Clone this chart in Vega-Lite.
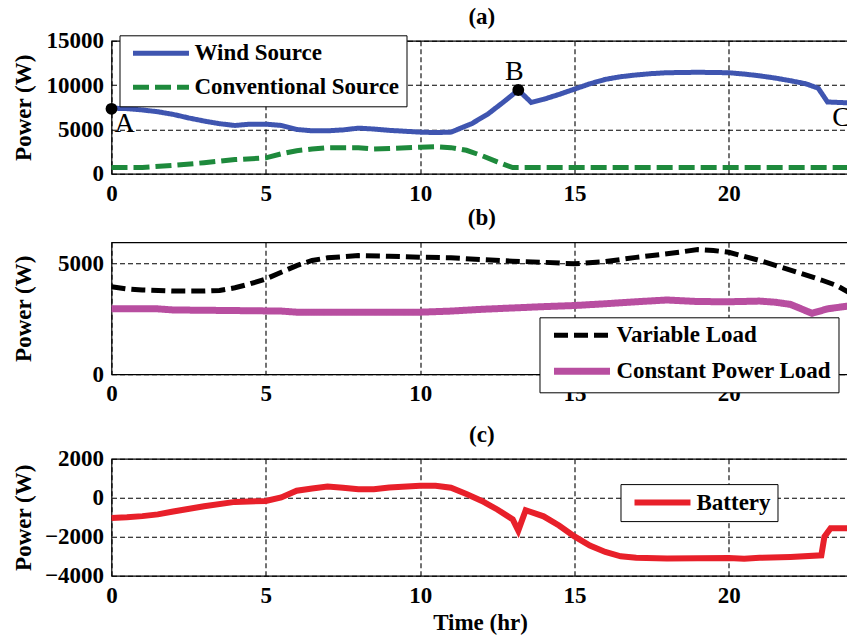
{
  "$schema": "https://vega.github.io/schema/vega-lite/v6.json",
  "padding": {"left": 10.5, "top": 4.8, "right": 0, "bottom": 0},
  "background": "white",
  "config": {
    "font": "Liberation Serif",
    "view": {"stroke": "black", "strokeWidth": 1.2},
    "axis": {
      "labelFont": "Liberation Serif", "labelFontSize": 23, "labelFontWeight": "bold", "labelColor": "black",
      "titleFont": "Liberation Serif", "titleFontSize": 23, "titleFontWeight": "bold", "titleColor": "black",
      "ticks": false, "domain": false, "grid": true, "gridColor": "black", "gridDash": [5, 3], "gridOpacity": 1, "gridWidth": 1.1,
      "labelPadding": 8.5, "labelFlush": false, "labelOverlap": false, "format": "d"
    },
    "axisY": {"minExtent": 66, "maxExtent": 66, "titlePadding": 10.5, "labelPadding": 8}
  },
  "datasets": {
    "a": [
      {"t": 0, "p": 7400, "s": "Wind Source"}, {"t": 0.5, "p": 7350, "s": "Wind Source"}, {"t": 1, "p": 7200, "s": "Wind Source"},
      {"t": 1.5, "p": 7000, "s": "Wind Source"}, {"t": 2, "p": 6700, "s": "Wind Source"}, {"t": 2.5, "p": 6300, "s": "Wind Source"},
      {"t": 3, "p": 5950, "s": "Wind Source"}, {"t": 3.5, "p": 5650, "s": "Wind Source"}, {"t": 4, "p": 5450, "s": "Wind Source"},
      {"t": 4.5, "p": 5600, "s": "Wind Source"}, {"t": 5, "p": 5600, "s": "Wind Source"}, {"t": 5.5, "p": 5450, "s": "Wind Source"},
      {"t": 6, "p": 5000, "s": "Wind Source"}, {"t": 6.5, "p": 4850, "s": "Wind Source"}, {"t": 7, "p": 4850, "s": "Wind Source"},
      {"t": 7.5, "p": 4950, "s": "Wind Source"}, {"t": 8, "p": 5150, "s": "Wind Source"}, {"t": 8.5, "p": 5050, "s": "Wind Source"},
      {"t": 9, "p": 4900, "s": "Wind Source"}, {"t": 9.5, "p": 4800, "s": "Wind Source"}, {"t": 10, "p": 4700, "s": "Wind Source"},
      {"t": 10.5, "p": 4650, "s": "Wind Source"}, {"t": 11, "p": 4700, "s": "Wind Source"}, {"t": 11.67, "p": 5650, "s": "Wind Source"},
      {"t": 12.2, "p": 6750, "s": "Wind Source"}, {"t": 12.74, "p": 8200, "s": "Wind Source"}, {"t": 13.18, "p": 9450, "s": "Wind Source"},
      {"t": 13.6, "p": 8050, "s": "Wind Source"}, {"t": 14, "p": 8400, "s": "Wind Source"}, {"t": 14.5, "p": 8950, "s": "Wind Source"},
      {"t": 15, "p": 9550, "s": "Wind Source"}, {"t": 15.5, "p": 10150, "s": "Wind Source"}, {"t": 16, "p": 10650, "s": "Wind Source"},
      {"t": 16.5, "p": 10950, "s": "Wind Source"}, {"t": 17, "p": 11150, "s": "Wind Source"}, {"t": 17.5, "p": 11300, "s": "Wind Source"},
      {"t": 18, "p": 11400, "s": "Wind Source"}, {"t": 19, "p": 11450, "s": "Wind Source"}, {"t": 20, "p": 11400, "s": "Wind Source"},
      {"t": 20.5, "p": 11250, "s": "Wind Source"}, {"t": 21, "p": 11050, "s": "Wind Source"}, {"t": 21.5, "p": 10800, "s": "Wind Source"},
      {"t": 22, "p": 10500, "s": "Wind Source"}, {"t": 22.5, "p": 10150, "s": "Wind Source"}, {"t": 22.9, "p": 9650, "s": "Wind Source"},
      {"t": 23.2, "p": 8100, "s": "Wind Source"}, {"t": 23.88, "p": 8000, "s": "Wind Source"},
      {"t": 0, "p": 700, "s": "Conventional Source"}, {"t": 1, "p": 720, "s": "Conventional Source"}, {"t": 2, "p": 950, "s": "Conventional Source"},
      {"t": 3, "p": 1250, "s": "Conventional Source"}, {"t": 4, "p": 1600, "s": "Conventional Source"}, {"t": 5, "p": 1800, "s": "Conventional Source"},
      {"t": 5.5, "p": 2250, "s": "Conventional Source"}, {"t": 6, "p": 2600, "s": "Conventional Source"}, {"t": 6.5, "p": 2800, "s": "Conventional Source"},
      {"t": 7, "p": 2950, "s": "Conventional Source"}, {"t": 8, "p": 2950, "s": "Conventional Source"}, {"t": 8.5, "p": 2800, "s": "Conventional Source"},
      {"t": 9, "p": 2850, "s": "Conventional Source"}, {"t": 10, "p": 3000, "s": "Conventional Source"}, {"t": 10.5, "p": 3050, "s": "Conventional Source"},
      {"t": 11, "p": 2950, "s": "Conventional Source"}, {"t": 11.5, "p": 2650, "s": "Conventional Source"}, {"t": 12, "p": 2050, "s": "Conventional Source"},
      {"t": 12.5, "p": 1350, "s": "Conventional Source"}, {"t": 13, "p": 700, "s": "Conventional Source"}, {"t": 13.5, "p": 700, "s": "Conventional Source"},
      {"t": 23.88, "p": 700, "s": "Conventional Source"}
    ],
    "b": [
      {"t": 0, "p": 3950, "s": "Variable Load"}, {"t": 0.5, "p": 3850, "s": "Variable Load"}, {"t": 1, "p": 3800, "s": "Variable Load"},
      {"t": 2, "p": 3750, "s": "Variable Load"}, {"t": 3, "p": 3750, "s": "Variable Load"}, {"t": 3.5, "p": 3780, "s": "Variable Load"},
      {"t": 4, "p": 3900, "s": "Variable Load"}, {"t": 4.5, "p": 4080, "s": "Variable Load"}, {"t": 5, "p": 4300, "s": "Variable Load"},
      {"t": 5.5, "p": 4600, "s": "Variable Load"}, {"t": 6, "p": 4900, "s": "Variable Load"}, {"t": 6.5, "p": 5130, "s": "Variable Load"},
      {"t": 7, "p": 5250, "s": "Variable Load"}, {"t": 8, "p": 5350, "s": "Variable Load"}, {"t": 9, "p": 5320, "s": "Variable Load"},
      {"t": 10, "p": 5280, "s": "Variable Load"}, {"t": 11, "p": 5250, "s": "Variable Load"}, {"t": 12, "p": 5170, "s": "Variable Load"},
      {"t": 13, "p": 5100, "s": "Variable Load"}, {"t": 14, "p": 5050, "s": "Variable Load"}, {"t": 15, "p": 4980, "s": "Variable Load"},
      {"t": 16, "p": 5080, "s": "Variable Load"}, {"t": 17, "p": 5270, "s": "Variable Load"}, {"t": 18, "p": 5430, "s": "Variable Load"},
      {"t": 19, "p": 5620, "s": "Variable Load"}, {"t": 19.5, "p": 5580, "s": "Variable Load"}, {"t": 20, "p": 5500, "s": "Variable Load"},
      {"t": 21, "p": 5130, "s": "Variable Load"}, {"t": 22, "p": 4700, "s": "Variable Load"}, {"t": 23, "p": 4250, "s": "Variable Load"},
      {"t": 23.5, "p": 4000, "s": "Variable Load"}, {"t": 23.88, "p": 3700, "s": "Variable Load"},
      {"t": 0, "p": 2950, "s": "Constant Power Load"}, {"t": 1.5, "p": 2950, "s": "Constant Power Load"}, {"t": 2, "p": 2900, "s": "Constant Power Load"},
      {"t": 3.5, "p": 2880, "s": "Constant Power Load"}, {"t": 5.5, "p": 2850, "s": "Constant Power Load"}, {"t": 6, "p": 2800, "s": "Constant Power Load"},
      {"t": 10, "p": 2800, "s": "Constant Power Load"}, {"t": 11, "p": 2850, "s": "Constant Power Load"}, {"t": 12, "p": 2930, "s": "Constant Power Load"},
      {"t": 13, "p": 2990, "s": "Constant Power Load"}, {"t": 14, "p": 3050, "s": "Constant Power Load"}, {"t": 15, "p": 3100, "s": "Constant Power Load"},
      {"t": 16, "p": 3180, "s": "Constant Power Load"}, {"t": 17, "p": 3270, "s": "Constant Power Load"}, {"t": 18, "p": 3350, "s": "Constant Power Load"},
      {"t": 19, "p": 3280, "s": "Constant Power Load"}, {"t": 20, "p": 3270, "s": "Constant Power Load"}, {"t": 21, "p": 3300, "s": "Constant Power Load"},
      {"t": 21.5, "p": 3250, "s": "Constant Power Load"}, {"t": 22, "p": 3150, "s": "Constant Power Load"}, {"t": 22.7, "p": 2750, "s": "Constant Power Load"},
      {"t": 23.2, "p": 2950, "s": "Constant Power Load"}, {"t": 23.88, "p": 3080, "s": "Constant Power Load"}
    ],
    "c": [
      {"t": 0, "p": -1030, "s": "Battery"}, {"t": 0.5, "p": -1000, "s": "Battery"}, {"t": 1, "p": -940, "s": "Battery"},
      {"t": 1.5, "p": -850, "s": "Battery"}, {"t": 2, "p": -700, "s": "Battery"}, {"t": 3, "p": -430, "s": "Battery"},
      {"t": 4, "p": -210, "s": "Battery"}, {"t": 5, "p": -160, "s": "Battery"}, {"t": 5.5, "p": 20, "s": "Battery"},
      {"t": 6, "p": 360, "s": "Battery"}, {"t": 6.5, "p": 480, "s": "Battery"}, {"t": 7, "p": 580, "s": "Battery"},
      {"t": 7.5, "p": 520, "s": "Battery"}, {"t": 8, "p": 440, "s": "Battery"}, {"t": 8.5, "p": 440, "s": "Battery"},
      {"t": 9, "p": 530, "s": "Battery"}, {"t": 10, "p": 620, "s": "Battery"}, {"t": 10.5, "p": 620, "s": "Battery"},
      {"t": 11, "p": 520, "s": "Battery"}, {"t": 11.5, "p": 190, "s": "Battery"}, {"t": 12, "p": -160, "s": "Battery"},
      {"t": 12.5, "p": -600, "s": "Battery"}, {"t": 13, "p": -1110, "s": "Battery"}, {"t": 13.18, "p": -1680, "s": "Battery"},
      {"t": 13.42, "p": -640, "s": "Battery"}, {"t": 14, "p": -950, "s": "Battery"}, {"t": 14.5, "p": -1420, "s": "Battery"},
      {"t": 15, "p": -1980, "s": "Battery"}, {"t": 15.5, "p": -2450, "s": "Battery"}, {"t": 16, "p": -2780, "s": "Battery"},
      {"t": 16.5, "p": -3000, "s": "Battery"}, {"t": 17, "p": -3080, "s": "Battery"}, {"t": 18, "p": -3110, "s": "Battery"},
      {"t": 19, "p": -3100, "s": "Battery"}, {"t": 20, "p": -3090, "s": "Battery"}, {"t": 20.5, "p": -3130, "s": "Battery"},
      {"t": 21, "p": -3080, "s": "Battery"}, {"t": 22, "p": -3030, "s": "Battery"}, {"t": 23, "p": -2950, "s": "Battery"},
      {"t": 23.1, "p": -2000, "s": "Battery"}, {"t": 23.3, "p": -1560, "s": "Battery"}, {"t": 23.88, "p": -1560, "s": "Battery"}
    ],
    "marks": [
      {"t": 0, "p": 7330, "label": "A"}, {"t": 13.18, "p": 9450, "label": "B"}
    ],
    "cmark": [
      {"t": 23.88, "p": 8000, "label": "C"}
    ]
  },
  "vconcat": [
    {
      "vconcat": [
        {
          "width": 737,
          "height": 133,
          "layer": [
            {
              "data": {"name": "a"},
              "mark": {"type": "line", "strokeWidth": 5},
              "encoding": {
                "x": {"field": "t", "type": "quantitative", "scale": {"domain": [0, 23.88], "nice": false}, "axis": {"values": [0, 5, 10, 15, 20], "title": null}},
                "y": {"field": "p", "type": "quantitative", "scale": {"domain": [0, 15000], "nice": false}, "axis": {"values": [0, 5000, 10000, 15000], "title": "Power (W)"}},
                "color": {"field": "s", "type": "nominal", "scale": {"domain": ["Wind Source", "Conventional Source"], "range": ["#3f55b0", "#1e8a3c"]},
                  "legend": {"title": null, "orient": "none", "legendX": 8, "legendY": -5.5, "symbolType": "M-0.5,0H5.72", "symbolSize": 324, "symbolStrokeWidth": 5, "labelOffset": 45.5, "rowPadding": 10, "padding": 6.5, "labelFont": "Liberation Serif", "labelFontSize": 23, "labelFontWeight": "bold", "labelColor": "black", "strokeColor": "black", "fillColor": "white", "labelLimit": 400}},
                "strokeDash": {"field": "s", "type": "nominal", "scale": {"domain": ["Wind Source", "Conventional Source"], "range": [[1, 0], [16, 6]]},
                  "legend": {"title": null, "orient": "none", "legendX": 8, "legendY": -5.5, "symbolType": "M-0.5,0H5.72", "symbolSize": 324, "symbolStrokeWidth": 5, "labelOffset": 45.5, "rowPadding": 10, "padding": 6.5, "labelFont": "Liberation Serif", "labelFontSize": 23, "labelFontWeight": "bold", "labelColor": "black", "strokeColor": "black", "fillColor": "white", "labelLimit": 400}}
              }
            },
            {
              "data": {"name": "marks"},
              "mark": {"type": "circle", "size": 140, "color": "black", "opacity": 1},
              "encoding": {"x": {"field": "t", "type": "quantitative"}, "y": {"field": "p", "type": "quantitative"}}
            },
            {
              "data": {"name": "marks"},
              "transform": [{"filter": "datum.label == 'A'"}],
              "mark": {"type": "text", "font": "Liberation Serif", "fontSize": 28, "color": "black", "dx": 13, "dy": 15, "baseline": "middle", "align": "center"},
              "encoding": {"x": {"field": "t", "type": "quantitative"}, "y": {"field": "p", "type": "quantitative"}, "text": {"field": "label"}}
            },
            {
              "data": {"name": "marks"},
              "transform": [{"filter": "datum.label == 'B'"}],
              "mark": {"type": "text", "font": "Liberation Serif", "fontSize": 28, "color": "black", "dx": -4, "dy": -18, "baseline": "middle", "align": "center"},
              "encoding": {"x": {"field": "t", "type": "quantitative"}, "y": {"field": "p", "type": "quantitative"}, "text": {"field": "label"}}
            },
            {
              "data": {"name": "cmark"},
              "mark": {"type": "text", "font": "Liberation Serif", "fontSize": 28, "color": "black", "dx": -7, "dy": 15, "baseline": "middle", "align": "center"},
              "encoding": {"x": {"field": "t", "type": "quantitative"}, "y": {"field": "p", "type": "quantitative"}, "text": {"field": "label"}}
            },
            {
              "data": {"values": [{"t": 12.0, "p": 15000, "label": "(a)"}]},
              "mark": {"type": "text", "font": "Liberation Serif", "fontSize": 23, "fontWeight": "bold", "color": "black", "dy": -17, "baseline": "alphabetic", "align": "center"},
              "encoding": {"x": {"field": "t", "type": "quantitative"}, "y": {"field": "p", "type": "quantitative"}, "text": {"field": "label"}}
            }
          ]
        },
        {
          "width": 737,
          "height": 132,
          "layer": [
            {
              "data": {"name": "b"},
              "mark": {"type": "line"},
              "encoding": {
                "x": {"field": "t", "type": "quantitative", "scale": {"domain": [0, 23.88], "nice": false}, "axis": {"values": [0, 5, 10, 15, 20], "title": null}},
                "y": {"field": "p", "type": "quantitative", "scale": {"domain": [0, 5950], "nice": false}, "axis": {"values": [0, 5000], "title": "Power (W)"}},
                "color": {"field": "s", "type": "nominal", "scale": {"domain": ["Variable Load", "Constant Power Load"], "range": ["#000000", "#b84ea0"]},
                  "legend": {"title": null, "orient": "none", "legendX": 428, "legendY": 75, "symbolType": "M-0.5,0H5.72", "symbolSize": 324, "symbolStrokeWidth": 5.5, "labelOffset": 45.5, "rowPadding": 9, "padding": 6.5, "labelFont": "Liberation Serif", "labelFontSize": 23, "labelFontWeight": "bold", "labelColor": "black", "strokeColor": "black", "fillColor": "white", "labelLimit": 400}},
                "strokeDash": {"field": "s", "type": "nominal", "scale": {"domain": ["Variable Load", "Constant Power Load"], "range": [[14, 6], [1, 0]]},
                  "legend": {"title": null, "orient": "none", "legendX": 428, "legendY": 75, "symbolType": "M-0.5,0H5.72", "symbolSize": 324, "symbolStrokeWidth": 5.5, "labelOffset": 45.5, "rowPadding": 9, "padding": 6.5, "labelFont": "Liberation Serif", "labelFontSize": 23, "labelFontWeight": "bold", "labelColor": "black", "strokeColor": "black", "fillColor": "white", "labelLimit": 400}},
                "strokeWidth": {"field": "s", "type": "nominal", "scale": {"domain": ["Variable Load", "Constant Power Load"], "range": [5, 7]}, "legend": null}
              }
            },
            {
              "data": {"values": [{"t": 12.0, "p": 5950, "label": "(b)"}]},
              "mark": {"type": "text", "font": "Liberation Serif", "fontSize": 23, "fontWeight": "bold", "color": "black", "dy": -17.5, "baseline": "alphabetic", "align": "center"},
              "encoding": {
                "x": {"field": "t", "type": "quantitative", "axis": {"values": [0, 5, 10, 15, 20], "title": null}},
                "y": {"field": "p", "type": "quantitative", "axis": {"values": [0, 5000], "title": "Power (W)"}},
                "text": {"field": "label"}
              }
            }
          ]
        }
      ],
      "spacing": -1.5,
      "resolve": {"scale": {"color": "independent", "strokeDash": "independent", "strokeWidth": "independent"}}
    },
    {
      "width": 737,
      "height": 117,
      "layer": [
        {
          "data": {"name": "c"},
          "mark": {"type": "line", "strokeWidth": 6},
          "encoding": {
            "x": {"field": "t", "type": "quantitative", "scale": {"domain": [0, 23.88], "nice": false}, "axis": {"values": [0, 5, 10, 15, 20], "title": "Time (hr)", "titlePadding": 4}},
            "y": {"field": "p", "type": "quantitative", "scale": {"domain": [-4000, 2000], "nice": false}, "axis": {"values": [-4000, -2000, 0, 2000], "title": "Power (W)"}},
            "color": {"field": "s", "type": "nominal", "scale": {"domain": ["Battery"], "range": ["#e8202a"]},
              "legend": {"title": null, "orient": "none", "legendX": 509, "legendY": 25.3, "symbolType": "M-0.5,0H5.72", "symbolSize": 324, "symbolStrokeWidth": 6, "labelOffset": 45.5, "rowPadding": 10, "padding": 6.5, "labelFont": "Liberation Serif", "labelFontSize": 23, "labelFontWeight": "bold", "labelColor": "black", "strokeColor": "black", "fillColor": "white", "labelLimit": 400}}
          }
        },
        {
          "data": {"values": [{"t": 12.0, "p": 2000, "label": "(c)"}]},
          "mark": {"type": "text", "font": "Liberation Serif", "fontSize": 23, "fontWeight": "bold", "color": "black", "dy": -17, "baseline": "alphabetic", "align": "center"},
          "encoding": {
            "x": {"field": "t", "type": "quantitative", "axis": {"values": [0, 5, 10, 15, 20], "title": "Time (hr)", "titlePadding": 4}},
            "y": {"field": "p", "type": "quantitative", "axis": {"values": [-4000, -2000, 0, 2000], "title": "Power (W)"}},
            "text": {"field": "label"}
          }
        }
      ]
    }
  ],
  "spacing": 16,
  "resolve": {"scale": {"color": "independent", "strokeDash": "independent", "strokeWidth": "independent"}}
}
